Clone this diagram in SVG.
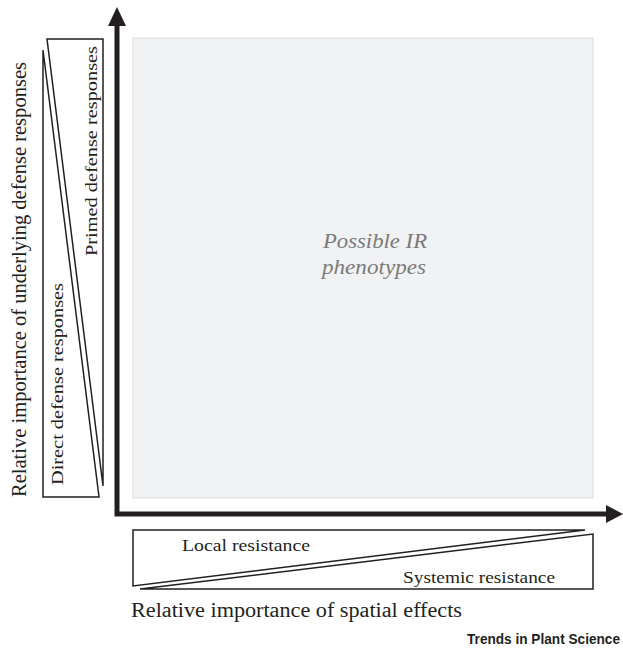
<svg xmlns="http://www.w3.org/2000/svg" width="623" height="652" viewBox="0 0 623 652">
<style>
.tri{fill:#fff;stroke:#231f20;stroke-width:1.5;stroke-linejoin:miter}
.lbl{font-family:"Liberation Serif",serif;fill:#231f20}
.ph{font-family:"Liberation Serif",serif;fill:#7a7a7a;font-style:italic;font-size:20px}
.ax{stroke:#231f20;stroke-width:5;fill:none}
.ah{fill:#231f20}
</style>
<rect width="623" height="652" fill="#fff"/>
<g id="region">
<rect x="133" y="38" width="460" height="460" fill="#f1f2f4" stroke="#dcdde0" stroke-width="1"/>
<text class="ph" x="323" y="248" textLength="104" lengthAdjust="spacingAndGlyphs">Possible IR</text>
<text class="ph" x="322" y="274" textLength="104" lengthAdjust="spacingAndGlyphs">phenotypes</text>
</g>
<g id="axes">
<path class="ax" d="M117,24 V514 H608"/>
<polygon class="ah" points="117,7 108,26 126,26"/>
<polygon class="ah" points="623,514 606,505 606,523"/>
</g>
<g id="primed">
<polygon class="tri" points="47,39 103,39 103,486"/>
<text class="lbl" font-size="16" transform="translate(97,256) rotate(-90)" textLength="210" lengthAdjust="spacingAndGlyphs">Primed defense responses</text>
</g>
<g id="direct">
<polygon class="tri" points="43,50 43,497 99,497"/>
<text class="lbl" font-size="16" transform="translate(63,485) rotate(-90)" textLength="202" lengthAdjust="spacingAndGlyphs">Direct defense responses</text>
</g>
<g id="local">
<polygon class="tri" points="133,530 585,530 133,586"/>
<text class="lbl" x="182" y="551" font-size="16" textLength="128" lengthAdjust="spacingAndGlyphs">Local resistance</text>
</g>
<g id="systemic">
<polygon class="tri" points="593,534 593,589 140,589"/>
<text class="lbl" x="403" y="583" font-size="16" textLength="152" lengthAdjust="spacingAndGlyphs">Systemic resistance</text>
</g>
<g id="labels">
<text class="lbl" x="131" y="617" font-size="20" textLength="331" lengthAdjust="spacingAndGlyphs">Relative importance of spatial effects</text>
<text class="lbl" font-size="20" transform="translate(26,497) rotate(-90)" textLength="435" lengthAdjust="spacingAndGlyphs">Relative importance of underlying defense responses</text>
<text x="467" y="644" font-family="'Liberation Sans',sans-serif" font-weight="bold" font-size="14" textLength="153" lengthAdjust="spacingAndGlyphs" fill="#231f20">Trends in Plant Science</text>
</g>
</svg>
